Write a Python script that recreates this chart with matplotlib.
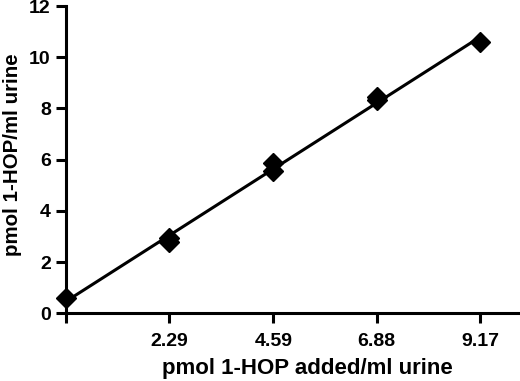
import matplotlib
matplotlib.use("Agg")
import matplotlib.pyplot as plt
import numpy as np

# spiked amount (pmol 1-HOP added / ml urine) and measured amount
added = [0.0, 2.29, 2.29, 4.59, 4.59, 6.88, 6.88, 9.17]
measured = [0.6, 2.93, 2.78, 5.85, 5.55, 8.43, 8.33, 10.58]
tick_positions = [0.0, 2.29, 4.59, 6.88, 9.17]
tick_labels = ["", "2.29", "4.59", "6.88", "9.17"]

plt.rcParams["font.family"] = ["Liberation Sans", "DejaVu Sans"]
plt.rcParams["font.weight"] = "bold"

fig = plt.figure(figsize=(5.2, 3.81), dpi=100)
ax = fig.add_axes([0.127, 0.178, 0.873, 0.806])

# least-squares line through the points, drawn over the spiked range
slope, intercept = np.polyfit(added, measured, 1)
fit_x = np.array([min(added), max(added)])
ax.plot(fit_x, slope * fit_x + intercept, color="black", lw=2.2, zorder=2)
ax.plot(added, measured, linestyle="none", marker="D", markersize=10,
        color="black", zorder=3, clip_on=False)

ax.set_xlim(0, 10.05)
ax.set_ylim(0, 12)
ax.set_xticks(tick_positions)
ax.set_xticklabels(tick_labels)
ax.set_yticks(range(0, 13, 2))

for side in ("top", "right"):
    ax.spines[side].set_visible(False)
for side in ("left", "bottom"):
    ax.spines[side].set_linewidth(2.2)
ax.tick_params(width=2.2, length=7, labelsize=14, pad=4)
ax.tick_params(axis="x", pad=7)

ax.set_xlabel("pmol 1-HOP added/ml urine", fontsize=16, fontweight="bold")
ax.xaxis.set_label_coords(0.531, -0.145)
ax.set_ylabel("pmol 1-HOP/ml urine", fontsize=14.8, fontweight="bold")
ax.yaxis.set_label_coords(-0.098, 0.515)

fig.savefig("out.png", dpi=100)
